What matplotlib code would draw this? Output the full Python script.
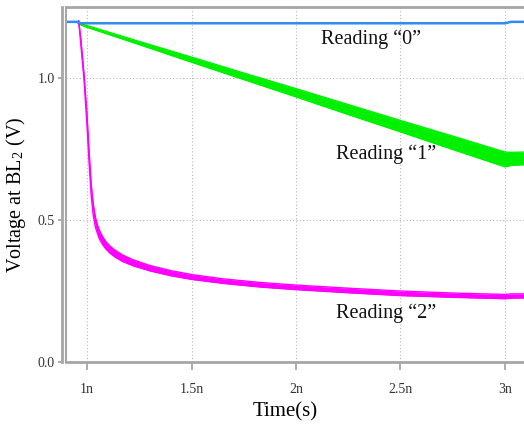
"""
Bit-line voltage during read of a multi-level cell (0 / 1 / 2 states)
"""

import matplotlib
matplotlib.use('Agg')
import matplotlib.pyplot as plt

# Configuration
FONT = 'Liberation Serif'
AXIS_GRAY = '#a6a6a6'
COLORS = {
    'read0': '#2f8cf0',
    'read1': '#00f000',
    'read2': '#ff00ff',
}

# time axis in ns
t_blue = [0.90, 0.95, 0.97, 3.00, 3.03, 3.10]
v_blue = [1.197, 1.197, 1.192, 1.192, 1.197, 1.197]

t_green = [0.95, 0.97, 1.00, 1.25, 1.50, 1.75, 2.00, 2.25, 2.50, 2.75, 3.00, 3.03, 3.10]
green_hi = [1.197, 1.190, 1.184, 1.128, 1.073, 1.017, 0.962, 0.906, 0.850, 0.795, 0.739, 0.738, 0.739]
green_lo = [1.197, 1.186, 1.178, 1.117, 1.055, 0.994, 0.933, 0.871, 0.810, 0.748, 0.687, 0.692, 0.695]

t_mag = [0.960, 0.970, 0.986, 1.000, 1.010, 1.020, 1.030, 1.040, 1.050, 1.060,
         1.075, 1.090, 1.110, 1.135, 1.170, 1.220, 1.300, 1.400, 1.500, 1.650,
         1.830, 2.000, 2.250, 2.500, 2.750, 3.000, 3.030, 3.100]
mag_hi = [1.200, 1.140, 1.010, 0.870, 0.740, 0.625, 0.555, 0.510, 0.482, 0.462,
          0.441, 0.424, 0.408, 0.393, 0.377, 0.360, 0.340, 0.322, 0.308, 0.293,
          0.280, 0.271, 0.260, 0.250, 0.243, 0.238, 0.240, 0.240]
mag_lo = [1.200, 1.120, 0.990, 0.830, 0.700, 0.585, 0.515, 0.475, 0.452, 0.432,
          0.413, 0.398, 0.383, 0.369, 0.354, 0.339, 0.321, 0.304, 0.291, 0.277,
          0.264, 0.255, 0.244, 0.234, 0.228, 0.223, 0.225, 0.226]

x_ticks = [1.0, 1.5, 2.0, 2.5, 3.0]
x_ticklabels = ['1n', '1.5n', '2n', '2.5n', '3n']
y_ticks = [0.0, 0.5, 1.0]
y_ticklabels = ['0.0', '0.5', '1.0']

labels = ['Reading \u201c0\u201d', 'Reading \u201c1\u201d', 'Reading \u201c2\u201d']
label_pos = [(2.36, 1.134), (2.43, 0.732), (2.43, 0.173)]

plt.rcParams['font.family'] = FONT
plt.rcParams['mathtext.fontset'] = 'stix'

fig = plt.figure(figsize=(5.24, 4.24), dpi=100)
ax = fig.add_axes([0.126, 0.146, 0.874, 0.838])

# grid
ax.grid(True, color='#b8b8b8', linestyle=(0, (1, 2)), linewidth=0.8)
ax.set_axisbelow(True)

# Reading "0"
ax.plot(t_blue, v_blue, color=COLORS['read0'], linewidth=1.8, zorder=3)

# Reading "1" (band of traces)
ax.fill_between(t_green, green_lo, green_hi, color=COLORS['read1'], linewidth=0, zorder=2)
ax.plot(t_green, green_hi, color=COLORS['read1'], linewidth=1.0, zorder=2)
ax.plot(t_green, green_lo, color=COLORS['read1'], linewidth=1.0, zorder=2)

# Reading "2"
ax.fill_between(t_mag, mag_lo, mag_hi, color=COLORS['read2'], linewidth=0, zorder=2)
ax.plot(t_mag, mag_hi, color=COLORS['read2'], linewidth=1.0, zorder=2)
ax.plot(t_mag, mag_lo, color=COLORS['read2'], linewidth=1.0, zorder=2)

for txt, (x, y) in zip(labels, label_pos):
    ax.text(x, y, txt, fontsize=14.5, ha='center', va='center', color='#111111')

ax.set_xlim(0.8995, 3.091)
ax.set_ylim(0.0, 1.25)

ax.set_xticks(x_ticks)
ax.set_xticklabels(x_ticklabels)
ax.set_yticks(y_ticks)
ax.set_yticklabels(y_ticklabels)
ax.tick_params(axis='x', direction='out', length=6, width=1.3, color=AXIS_GRAY,
               labelsize=10, labelcolor='#333333', pad=9)
ax.tick_params(axis='y', direction='out', length=3, width=1.3, color=AXIS_GRAY,
               labelsize=10, labelcolor='#333333', pad=2)

# frame
for side in ['left', 'bottom', 'top']:
    ax.spines[side].set_color(AXIS_GRAY)
    ax.spines[side].set_linewidth(2)
ax.spines['right'].set_visible(False)
ax.spines['left'].set_position(('outward', 3))
ax.plot([0, 0], [0, 1], transform=ax.transAxes, color=AXIS_GRAY,
        linewidth=1.5, clip_on=False, zorder=4)

ax.set_xlabel('Time(s)', fontsize=15)
ax.xaxis.set_label_coords(0.478, -0.112)
ax.set_ylabel('Voltage at BL$_\\mathregular{2}$ (V)', fontsize=14.5)
ax.yaxis.set_label_coords(-0.082, 0.47)

plt.savefig('out.png', dpi=100)
plt.close()
